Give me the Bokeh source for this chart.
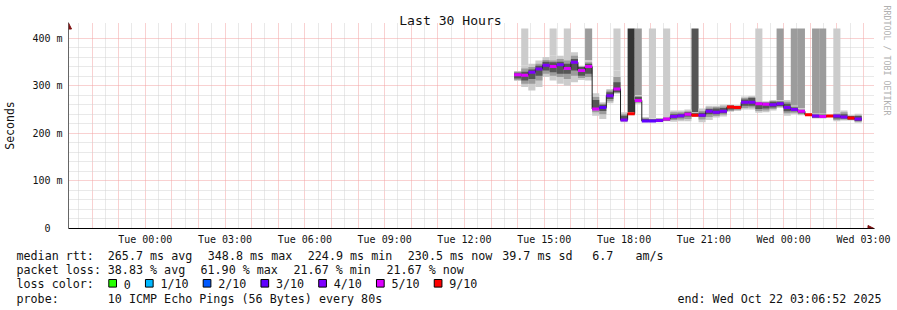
import math
from bokeh.plotting import figure
from bokeh.layouts import column
from bokeh.models import FixedTicker, LinearAxis, Arrow, NormalHead, ColumnDataSource, Title
from bokeh.core.properties import value
from bokeh.embed import file_html
from bokeh.resources import INLINE

MONO = "DejaVu Sans Mono"

# ---------------- data ----------------
step_start = [
    "Tue 13:52", "Tue 14:08", "Tue 14:24", "Tue 14:40", "Tue 14:56", "Tue 15:12", "Tue 15:28",
    "Tue 15:44", "Tue 16:00", "Tue 16:16", "Tue 16:32", "Tue 16:48", "Tue 17:04", "Tue 17:20",
    "Tue 17:36", "Tue 17:52", "Tue 18:08", "Tue 18:24", "Tue 18:40", "Tue 18:56", "Tue 19:12",
    "Tue 19:28", "Tue 19:44", "Tue 20:00", "Tue 20:16", "Tue 20:32", "Tue 20:48", "Tue 21:04",
    "Tue 21:20", "Tue 21:36", "Tue 21:52", "Tue 22:08", "Tue 22:24", "Tue 22:40", "Tue 22:56",
    "Tue 23:12", "Tue 23:28", "Tue 23:44", "Wed 00:00", "Wed 00:16", "Wed 00:32", "Wed 00:48",
    "Wed 01:04", "Wed 01:20", "Wed 01:36", "Wed 01:52", "Wed 02:08", "Wed 02:24", "Wed 02:40",
]
median_ms = [323, 322, 328, 335, 343, 340, 344, 336, 349, 332, 340, 251, 254, 279, 293, 228,
             241, 269, 226, 226, 227, 230, 235, 237, 240, 238, 238, 246, 244, 246, 255, 254,
             265, 265, 262, 261, 260, 262, 254, 250, 246, 239, 236, 235, 236, 236, 234, 232, 230]
median_loss = ["5/10", "5/10", "4/10", "4/10", "4/10", "5/10", "4/10", "5/10", "4/10", "5/10",
               "5/10", "5/10", "3/10", "4/10", "5/10", "4/10", "9/10", "5/10", "3/10", "3/10",
               "4/10", "5/10", "4/10", "4/10", "5/10", "9/10", "4/10", "4/10", "4/10", "4/10",
               "9/10", "9/10", "4/10", "4/10", "5/10", "5/10", "4/10", "4/10", "4/10", "4/10",
               "5/10", "9/10", "4/10", "5/10", "9/10", "4/10", "4/10", "9/10", "4/10"]
smoke_outer_lo = [310, 297, 290, 297, 318, 311, 304, 300, 307, 312, 311, 237, 230, 263, 283, 223,
                  238, 262, 223, 223, 223, 225, 224, 225, 225, 234, 223, 228, 233, 235, 245, 247,
                  250, 250, 243, 244, 248, 253, 237, 240, 238, 237, 231, 231, 234, 225, 227, 227, 222]
smoke_outer_hi = [331, 343, 346, 353, 360, 363, 363, 360, 370, 342, 353, 284, 265, 293, 332, 244,
                  244, 280, 234, 231, 232, 234, 248, 248, 250, 244, 252, 258, 258, 260, 260, 259,
                  277, 278, 268, 267, 270, 270, 270, 258, 252, 241, 241, 241, 238, 244, 248, 238, 241]
smoke_mid_lo = [312, 304, 304, 311, 325, 321, 318, 314, 321, 316, 318, 244, 240, 267, 285, 225,
                239, 264, 224, 224, 224, 226, 228, 229, 230, 235, 229, 234, 236, 239, 247, 249,
                253, 254, 247, 248, 251, 255, 242, 243, 240, 237, 232, 232, 234, 228, 229, 228, 224]
smoke_mid_hi = [329, 336, 339, 346, 354, 353, 356, 353, 363, 340, 349, 276, 262, 290, 318, 240,
                243, 278, 232, 230, 231, 233, 244, 244, 246, 243, 247, 254, 255, 256, 259, 258,
                274, 276, 266, 265, 268, 268, 266, 256, 250, 241, 240, 240, 238, 241, 244, 237, 238]
smoke_in_lo = [315, 311, 314, 321, 332, 328, 325, 325, 332, 321, 325, 249, 247, 272, 286, 227,
               240, 266, 225, 225, 225, 227, 231, 233, 235, 236, 234, 240, 240, 242, 250, 251,
               258, 258, 251, 252, 254, 257, 246, 246, 242, 238, 233, 233, 235, 231, 231, 229, 226]
smoke_in_hi = [327, 329, 334, 342, 350, 349, 350, 346, 356, 339, 346, 270, 260, 286, 307, 237,
               242, 276, 230, 229, 230, 232, 240, 241, 244, 242, 243, 251, 252, 253, 258, 257,
               271, 274, 264, 264, 266, 266, 262, 254, 249, 240, 239, 239, 237, 239, 240, 236, 236]
# shade of the smoke that runs off the top of the chart (0 = none)
spike_shade = [0, 1, 0, 0, 0, 1, 0, 1, 0, 0, 2, 0, 0, 0, 1, 0, 4, 2, 0, 1, 0, 1, 0, 0, 0, 3,
               0, 0, 0, 0, 0, 0, 0, 0, 1, 0, 0, 2, 0, 2, 2, 0, 2, 2, 0, 1, 0, 0, 0]

loss_labels = ["0", "1/10", "2/10", "3/10", "4/10", "5/10", "9/10"]
loss_colors = ["#26ff00", "#00b8ff", "#0059ff", "#5e00ff", "#7e00ff", "#dd00ff", "#ff0000"]

x_tick_times = ["Tue 00:00", "Tue 03:00", "Tue 06:00", "Tue 09:00", "Tue 12:00",
                "Tue 15:00", "Tue 18:00", "Tue 21:00", "Wed 00:00", "Wed 03:00"]
y_ticks = [0, 100, 200, 300, 400]
y_tick_labels = ["0\u00a0\u00a0", "100 m", "200 m", "300 m", "400 m"]

title_text = "Last 30 Hours"
ylabel_text = "Seconds"
credit_text = "RRDTOOL / TOBI OETIKER"
end_time = "Wed 03:06:52"
span_hours = 30

rtt_items = ["median rtt:", "265.7 ms avg", "348.8 ms max", "224.9 ms min", "230.5 ms now",
             "39.7 ms sd", "6.7", "am/s"]
loss_items = ["packet loss:", "38.83 % avg", "61.90 % max", "21.67 % min", "21.67 % now"]
color_item = "loss color:"
probe_items = ["probe:", "10 ICMP Echo Pings (56 Bytes) every 80s"]
end_text = "end: Wed Oct 22 03:06:52 2025"


def hours(s):
    day, hms = s.split()
    parts = [int(v) for v in hms.split(":")]
    h = parts[0] + parts[1] / 60 + (parts[2] / 3600 if len(parts) > 2 else 0)
    return h + (24 if day == "Wed" else 0)


# can the title sit slightly inside the frame (negative standoff)?
try:
    Title(standoff=-10)
    NEG_OK = True
except Exception:
    NEG_OK = False

# ---------------- layout constants ----------------
W = 897
CH = 249                                  # chart figure height
LH = 310 - CH                             # legend strip height
PLOT_TOP = 28                             # top of the data area in px
FL, FH0 = 66, 200                         # frame left, data-area height
EXTRA_T = 6 if NEG_OK else 0              # room for the y-axis arrow head
FT = PLOT_TOP - EXTRA_T
FH = FH0 + EXTRA_T
PX_PER_H = 800 / 30
EXTRA_R = 8                               # room for the x-axis arrow head
FR = 866 + EXTRA_R                        # frame right edge
STEP_H = 16 / 60
x_hi = hours(end_time)
x_lo = x_hi - span_hours
Y_TOP = 420
PX_PER_MS = FH0 / Y_TOP

shade_colors = {1: "#cccccc", 2: "#9c9c9c", 3: "#555555", 4: "#333333"}

t0 = [hours(s) for s in step_start]
t1 = [t + STEP_H for t in t0]
lc = dict(zip(loss_labels, loss_colors))
src = ColumnDataSource(dict(
    t0=t0, t1=t1, med=median_ms, col=[lc[l] for l in median_loss],
    olo=smoke_outer_lo, ohi=smoke_outer_hi, mlo=smoke_mid_lo, mhi=smoke_mid_hi,
    ilo=smoke_in_lo, ihi=smoke_in_hi,
))
sp_idx = [i for i, s in enumerate(spike_shade) if s > 0]
spike_src = ColumnDataSource(dict(
    t0=[t0[i] for i in sp_idx], t1=[t1[i] for i in sp_idx],
    lo=[smoke_outer_hi[i] for i in sp_idx], hi=[Y_TOP for i in sp_idx],
    col=[shade_colors[spike_shade[i]] for i in sp_idx],
))

p = figure(width=W, height=CH, x_range=(x_lo, x_hi + EXTRA_R / PX_PER_H),
           y_range=(0, Y_TOP + EXTRA_T / PX_PER_MS),
           output_backend="svg", toolbar_location=None,
           min_border_left=FL, min_border_right=W - FR,
           min_border_top=FT, min_border_bottom=CH - FT - FH)
p.background_fill_color = "white"
p.border_fill_color = "white"
p.outline_line_color = None

# title
p.title.text = title_text
p.title.text_font = MONO
p.title.text_font_size = "13.1px"
p.title.text_font_style = "normal"
p.title.text_color = "#111111"
p.title.align = "left"
p.title.offset = 448 - FL - len(title_text) * 0.602 * 13.1 / 2
p.title.standoff = 2 - 2 * EXTRA_T

# grids
p.xgrid.ticker = FixedTicker(ticks=list(range(-2, 28)), minor_ticks=[h + 0.5 for h in range(-3, 28)])
p.ygrid.ticker = FixedTicker(ticks=y_ticks, minor_ticks=[v for v in range(20, 420, 20) if v % 100])
for g in (p.xgrid, p.ygrid):
    g.grid_line_color = "#f2a2a2"
    g.grid_line_dash = "1 1"
    g.grid_line_width = 1
    g.minor_grid_line_color = "#d2d2d2"
    g.minor_grid_line_dash = "1 1"
    g.minor_grid_line_width = 1

# axes
xt = [hours(s) for s in x_tick_times]
p.xaxis.ticker = FixedTicker(ticks=xt)
p.xaxis.major_label_overrides = {h: s for h, s in zip(xt, x_tick_times)}
p.yaxis.ticker = FixedTicker(ticks=y_ticks)
p.yaxis.major_label_overrides = dict(zip(y_ticks, y_tick_labels))
for ax in (p.xaxis, p.yaxis):
    ax.major_tick_out = 0
    ax.major_tick_in = 0
    ax.minor_tick_out = 0
    ax.minor_tick_in = 0
    ax.major_label_text_font = MONO
    ax.major_label_text_font_size = "10px"
    ax.major_label_text_color = "#111111"
    ax.axis_line_width = 1
p.xaxis.axis_line_color = "#000000"
p.yaxis.axis_line_color = "#666666"
p.xaxis.major_label_standoff = 5
p.yaxis.major_label_standoff = 6
p.yaxis.axis_label = ylabel_text
p.yaxis.axis_label_text_font = MONO
p.yaxis.axis_label_text_font_size = "11.5px"
p.yaxis.axis_label_text_font_style = "normal"
p.yaxis.axis_label_text_color = "#111111"
p.yaxis.axis_label_standoff = 12

# credit text along the right edge (top-aligned via trailing no-break spaces)
cred = LinearAxis(ticker=FixedTicker(ticks=[]), axis_line_color=None,
                  major_tick_out=0, major_tick_in=0, minor_tick_out=0, minor_tick_in=0,
                  major_label_standoff=0, major_label_text_font_size="0px",
                  axis_label=credit_text + "\u00a0" * 26, axis_label_text_font=MONO,
                  axis_label_text_font_size="8.3px", axis_label_text_font_style="normal",
                  axis_label_text_color="#b0b0b0", axis_label_standoff=7)
p.add_layout(cred, "right")

# smoke
p.quad(left="t1", right="t0", bottom="lo", top="hi", source=spike_src,
       fill_color="col", line_color=None)
p.quad(left="t0", right="t1", bottom="olo", top="ohi", source=src, fill_color="#cccccc", line_color=None)
p.quad(left="t0", right="t1", bottom="mlo", top="mhi", source=src, fill_color="#9c9c9c", line_color=None)
p.quad(left="t0", right="t1", bottom="ilo", top="ihi", source=src, fill_color="#555555", line_color=None)

# median: black step line + loss-colored segments
xs, ys = [], []
for a, b, m in zip(t0, t1, median_ms):
    xs += [a, b]
    ys += [m, m]
p.line(xs, ys, line_color="#202020", line_width=1)
p.segment(x0="t0", x1="t1", y0="med", y1="med", source=src, line_color="col", line_width=3)

# axis arrow heads
p.add_layout(Arrow(end=NormalHead(size=6, fill_color="#7f1010", line_color="#7f1010", line_width=1),
                   x_start=x_hi, y_start=0, x_end=x_hi + 7.5 / PX_PER_H, y_end=0,
                   line_color="#000000", line_width=1))
if EXTRA_T:
    p.add_layout(Arrow(end=NormalHead(size=6, fill_color="#7f1010", line_color="#7f1010", line_width=1),
                       x_start=x_lo, y_start=Y_TOP - 2, x_end=x_lo, y_end=Y_TOP + 5.5 / PX_PER_MS,
                       line_color="#666666", line_width=1))

# ---------------- legend strip (pixel coordinates) ----------------
leg = figure(width=W, height=LH, x_range=(0, W), y_range=(310, CH),
             output_backend="svg", toolbar_location=None, min_border=0,
             x_axis_type=None, y_axis_type=None)
for fig in (p, leg):
    try:
        fig.frame_align = False
    except Exception:
        pass
leg.xgrid.visible = False
leg.ygrid.visible = False
leg.outline_line_color = None
leg.background_fill_color = "white"
leg.border_fill_color = "white"

ROW_Y = [255.3, 269.6, 283.8, 298]        # text baselines of the four legend rows
tx, ty, tt, ta = [], [], [], []
rtt_x = [16, 107.3, 207.3, 307.3, 407.3, 501.7, 591.7, 635]
for t, X in zip(rtt_items, rtt_x):
    tx.append(X); ty.append(ROW_Y[0]); tt.append(t); ta.append("left")
loss_x = [16, 107.3, 200, 293, 386]
for t, X in zip(loss_items, loss_x):
    tx.append(X); ty.append(ROW_Y[1]); tt.append(t); ta.append("left")
tx.append(16); ty.append(ROW_Y[2]); tt.append(color_item); ta.append("left")
bl, br = [], []
bx = 108.3
for t in loss_labels:
    bl.append(bx); br.append(bx + 7.7)
    tx.append(bx + 15); ty.append(ROW_Y[2]); tt.append(t); ta.append("left")
    bx = bx + 15 + len(t) * 7.04 + 14.6
tx += [16, 107.3, 881]
ty += [ROW_Y[3]] * 3
tt += [probe_items[0], probe_items[1], end_text]
ta += ["left", "left", "right"]

leg.quad(left=bl, right=br, top=[279] * len(bl), bottom=[286.6] * len(bl),
         fill_color=loss_colors, line_color="#000000", line_width=1)
leg.text(x=tx, y=ty, text=tt, text_align=ta, text_baseline="alphabetic",
         text_font=value(MONO), text_font_size=value("11.7px"), text_color="#111111")

layout = column(p, leg, spacing=0)
open("out.html", "w").write(file_html(layout, INLINE))
